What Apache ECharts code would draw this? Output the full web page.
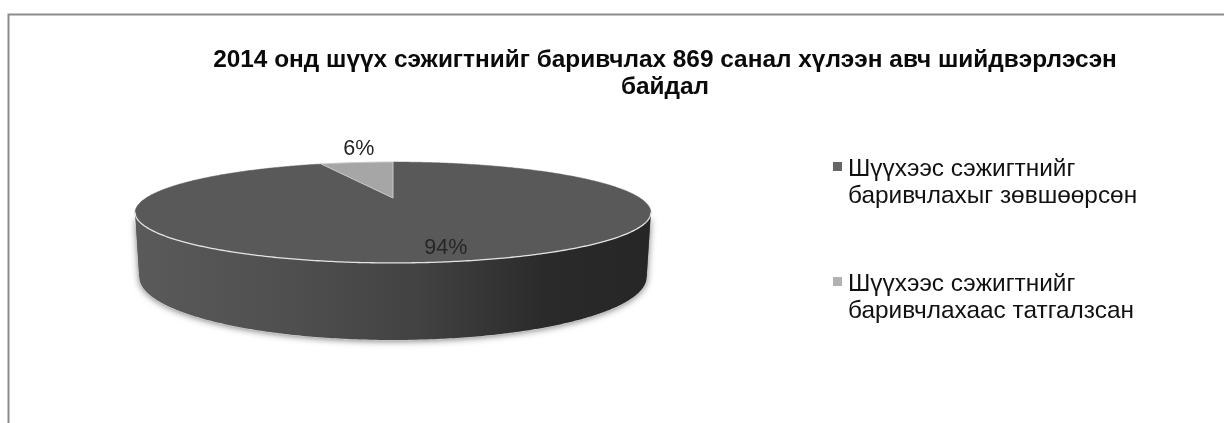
<!DOCTYPE html>
<html>
<head>
<meta charset="utf-8">
<style>html,body{margin:0;padding:0;background:#fff}#c{width:1224px;height:423px}</style>
<script src="https://cdn.jsdelivr.net/npm/echarts@6/dist/echarts.min.js"></script>
</head>
<body>
<div id="c"></div>
<script>
const chartTitle = '2014 онд шүүх сэжигтнийг баривчлах 869 санал хүлээн авч шийдвэрлэсэн\nбайдал';
const categories = ['Шүүхээс сэжигтнийг\nбаривчлахыг зөвшөөрсөн', 'Шүүхээс сэжигтнийг\nбаривчлахаас татгалзсан'];
const shares = [94, 6];
const sliceColors = ['#595959', '#a6a6a6'];
const legendColors = ['#666666', '#b2b2b2'];

const FONT = '"Liberation Sans", Arial, sans-serif';
const total = shares.reduce((a, b) => a + b, 0);
// Perspective projection of a disc lying flat
const topDisc = { cx: 393, y0: 198, A: 46.3, B: 247, k: 0.287 };
const botDisc = { cx: 393, y0: 258.9, A: 57.8, B: 243, k: 0.287 };
function project(d, theta, r) {
  const u = r * Math.sin(theta), v = r * Math.cos(theta), w = 1 + d.k * v;
  return [d.cx + d.B * u / w, d.y0 - d.A * v / w];
}
function arcPoints(d, a0, a1) {
  const n = Math.max(2, Math.ceil(Math.abs(a1 - a0) / 0.01)), pts = [];
  for (let i = 0; i <= n; i++) pts.push(project(d, a0 + (a1 - a0) * i / n, 1));
  return pts;
}
const sideA0 = Math.acos(-topDisc.k), sideA1 = 2 * Math.PI - sideA0; // right extreme -> left extreme through the front
const labelPlace = [
  { r: 0.8, va: 'middle', dy: 3, dx: 5 },
  { r: 1.15, va: 'bottom', dy: 2, dx: 6 }
];

function renderSlice(idx) {
  return function (params, api) {
    const before = shares.slice(0, idx).reduce((a, b) => a + b, 0);
    const a0 = before / total * 2 * Math.PI;
    const a1 = (before + api.value(0)) / total * 2 * Math.PI;
    const children = [];
    if (idx === 0) {
      const topFront = arcPoints(topDisc, sideA0, sideA1);
      const botFront = arcPoints(botDisc, sideA0, sideA1);
      const wall = topFront.concat(botFront.slice().reverse());
      children.push({
        type: 'polygon', shape: { points: wall },
        style: { fill: '#555', shadowBlur: 7, shadowColor: 'rgba(0,0,0,0.55)', shadowOffsetY: 1 }
      });
      children.push({
        type: 'polyline', shape: { points: botFront },
        style: { fill: null, stroke: '#d8d8d8', lineWidth: 1.2 }
      });
      children.push({
        type: 'polygon', shape: { points: wall },
        style: {
          fill: {
            type: 'linear', x: 0, y: 0, x2: 1, y2: 0,
            colorStops: [
              { offset: 0, color: '#5a5a5a' }, { offset: 0.3, color: '#4f4f4f' },
              { offset: 0.55, color: '#424242' }, { offset: 0.8, color: '#2a2a2a' },
              { offset: 1, color: '#262626' }
            ]
          }
        }
      });
    }
    const pts = [project(topDisc, 0, 0)].concat(arcPoints(topDisc, a0, a1));
    children.push({
      type: 'polygon', shape: { points: pts },
      style: { fill: sliceColors[idx], stroke: idx === 1 ? '#c8c8c8' : sliceColors[idx], lineWidth: idx === 1 ? 1 : 0.5 }
    });
    if (idx === 0) {
      children.push({
        type: 'polyline', shape: { points: arcPoints(topDisc, sideA0, sideA1) },
        style: { fill: null, stroke: '#e4e4e4', lineWidth: 1.3 }
      });
    }
    const mid = (a0 + a1) / 2, lp = labelPlace[idx];
    const p = project(topDisc, mid, lp.r);
    children.push({
      type: 'text',
      x: p[0] + lp.dx, y: p[1] + lp.dy,
      style: {
        text: Math.round(api.value(0) / total * 100) + '%',
        fill: '#262626', font: '21.5px ' + FONT, align: 'center', verticalAlign: lp.va
      }
    });
    return { type: 'group', children };
  };
}

const chart = echarts.init(document.getElementById('c'), null, { renderer: 'canvas' });
chart.setOption({
  animation: false,
  backgroundColor: '#ffffff',
  title: {
    text: chartTitle, left: 660, top: 42, textAlign: 'center',
    textStyle: { fontFamily: FONT, fontWeight: 'bold', fontSize: 24.4, lineHeight: 27, color: '#0a0a0a' }
  },
  legend: {
    orient: 'vertical', left: 833, top: 156, itemWidth: 9, itemHeight: 54, itemGap: 61,
    selectedMode: false, padding: 0, inactiveColor: '#000',
    textStyle: { fontFamily: FONT, fontSize: 24.4, lineHeight: 27, color: '#111', padding: [0, 0, 0, 1] },
    data: categories.map((name, i) => ({
      name,
      icon: 'path://M0 6h9v9h-9z M0 0h.01v.01h-.01z M0 53.99h.01v.01h-.01z',
      itemStyle: { color: legendColors[i] }
    }))
  },
  graphic: [{
    type: 'polyline', silent: true,
    shape: { points: [[8.5, 423], [8.5, 14.5], [1224, 14.5]] },
    style: { fill: null, stroke: '#8c8c8c', lineWidth: 2 }
  }],
  series: categories.map((name, i) => ({
    type: 'custom', name, coordinateSystem: 'none', silent: true,
    itemStyle: { color: legendColors[i] },
    data: [[shares[i]]], renderItem: renderSlice(i), z: 2 + i
  }))
});
</script>
</body>
</html>
